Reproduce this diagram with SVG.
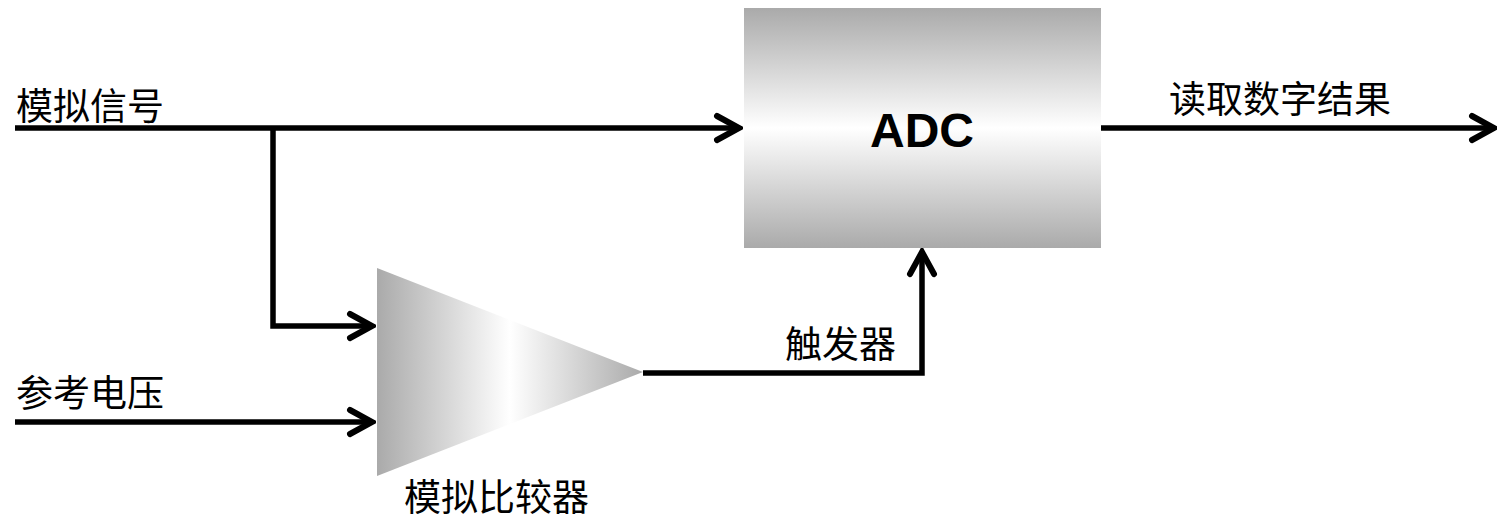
<svg xmlns="http://www.w3.org/2000/svg" width="1497" height="520" viewBox="0 0 1497 520">
<style>
.wire{fill:none;stroke:#000;stroke-width:5.5;stroke-linejoin:miter}
.lbl{font-family:"Noto Sans CJK SC","Liberation Sans",sans-serif;font-size:37px;font-weight:normal;fill:#000}
.title{font-family:"Liberation Sans",Arial,sans-serif;font-size:48px;font-weight:bold;fill:#000}
</style>
<defs>
<linearGradient id="gv" x1="0" y1="0" x2="0" y2="1">
<stop offset="0" stop-color="#aaaaaa"/>
<stop offset="0.5" stop-color="#ffffff"/>
<stop offset="1" stop-color="#aaaaaa"/>
</linearGradient>
<linearGradient id="gh" x1="0" y1="0" x2="1" y2="0">
<stop offset="0" stop-color="#aaaaaa"/>
<stop offset="0.5" stop-color="#ffffff"/>
<stop offset="1" stop-color="#aaaaaa"/>
</linearGradient>
<marker id="arr" markerUnits="userSpaceOnUse" markerWidth="32" markerHeight="32" viewBox="-29 -16 32 32" refX="0" refY="0" orient="auto">
<path d="M-23,-12 L-1,0 L-23,12" fill="none" stroke="#000" stroke-width="6" stroke-linecap="round" stroke-linejoin="miter"/>
</marker>
</defs>
<g id="adc">
<rect x="744" y="8" width="357" height="240" fill="url(#gv)"/>
<text class="title" x="922" y="147" text-anchor="middle">ADC</text>
</g>
<g id="comparator">
<polygon points="377,268 643,372 377,476" fill="url(#gh)"/>
<text class="lbl" x="404" y="511">模拟比较器</text>
</g>
<g id="labels">
<text class="lbl" x="16" y="120">模拟信号</text>
<text class="lbl" x="16" y="407">参考电压</text>
<text class="lbl" x="785" y="358">触发器</text>
<text class="lbl" x="1169" y="113">读取数字结果</text>
</g>
<g id="connectors">
<path class="wire" d="M15,128 L740,128" marker-end="url(#arr)"/>
<path class="wire" d="M273,128 L273,326 L373,326" marker-end="url(#arr)"/>
<path class="wire" d="M15,422 L373,422" marker-end="url(#arr)"/>
<path class="wire" d="M643,373 L922,373 L922,251" marker-end="url(#arr)"/>
<path class="wire" d="M1101,128 L1495,128" marker-end="url(#arr)"/>
</g>
</svg>
